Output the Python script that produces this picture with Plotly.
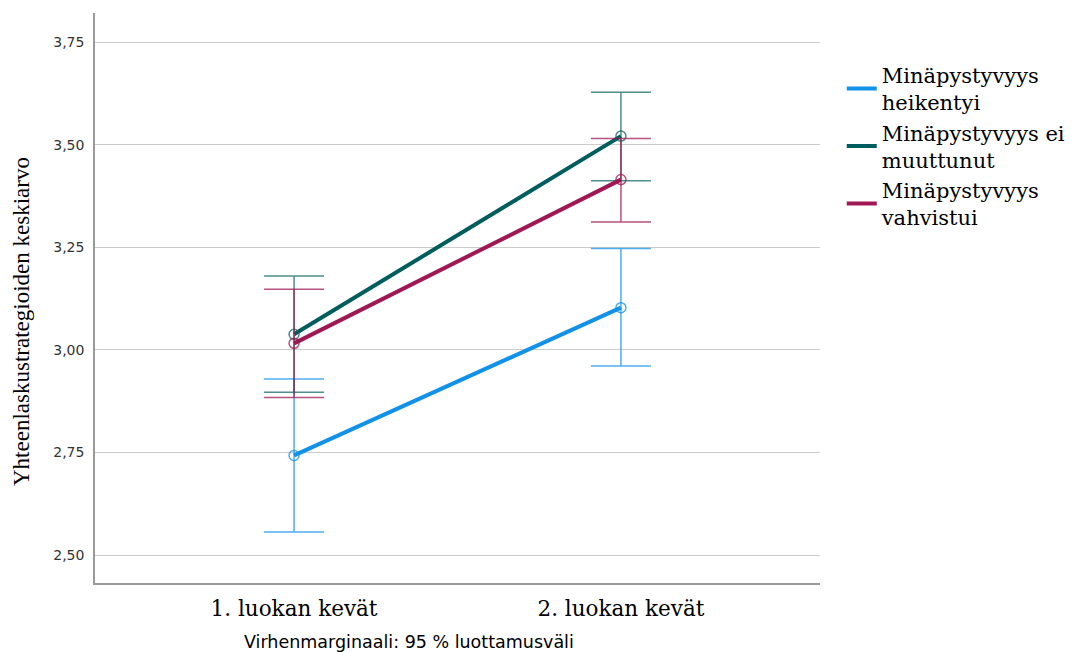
import plotly.graph_objects as go

categories = ["1. luokan kevät", "2. luokan kevät"]
series_names = ["Minäpystyvyys<br>heikentyi", "Minäpystyvyys ei<br>muuttunut", "Minäpystyvyys<br>vahvistui"]
means = [[2.743, 3.103], [3.038, 3.521], [3.016, 3.415]]
ci_low = [[2.556, 2.961], [2.897, 3.412], [2.884, 3.312]]
ci_high = [[2.929, 3.247], [3.180, 3.628], [3.148, 3.515]]
colors = ["#1192e8", "#005d5d", "#9f1853"]
err_colors = ["rgba(17,146,232,0.75)", "rgba(0,93,93,0.7)", "rgba(159,24,83,0.75)"]
y_ticks = [2.50, 2.75, 3.00, 3.25, 3.50, 3.75]
y_title = "Yhteenlaskustrategioiden keskiarvo"
footnote = "Virhenmarginaali: 95 % luottamusväli"

fig = go.Figure()
xpos = [1, 2]
for i, (name, m, lo, hi, c, ec) in enumerate(zip(series_names, means, ci_low, ci_high, colors, err_colors)):
    fig.add_trace(go.Scatter(
        x=xpos, y=m, name=name, mode="lines", legendgroup=str(i),
        line=dict(color=c, width=4),
    ))
    fig.add_trace(go.Scatter(
        x=xpos, y=m, name=name, mode="markers", legendgroup=str(i), showlegend=False,
        marker=dict(symbol="circle-open", size=10, color=ec, line=dict(width=1.5)),
        error_y=dict(type="data", symmetric=False,
                     array=[h - v for h, v in zip(hi, m)],
                     arrayminus=[v - l for v, l in zip(m, lo)],
                     color=ec, thickness=1.5, width=30),
    ))

fig.update_layout(
    width=1081, height=652,
    margin=dict(l=87, r=269, t=5, b=77),
    plot_bgcolor="white", paper_bgcolor="white",
    separators=", ",
    showlegend=True,
    legend=dict(x=1.030, xanchor="left", y=0.927, yanchor="top",
                font=dict(family="DejaVu Serif", size=21, color="black"),
                bgcolor="rgba(0,0,0,0)", tracegroupgap=0, itemwidth=30),
    xaxis=dict(range=[0.391, 2.609], tickvals=xpos, ticktext=categories,
               showgrid=False, zeroline=False, showline=True, linecolor="#9a9a9a", linewidth=1.5,
               ticks="", ticklabelstandoff=5,
               tickfont=dict(family="DejaVu Serif", size=21.5, color="black")),
    yaxis=dict(range=[2.432, 3.821], tickvals=y_ticks, tickformat=".2f",
               showgrid=True, gridcolor="#cccccc", gridwidth=1, zeroline=False,
               showline=True, linecolor="#9a9a9a", linewidth=1.5, ticks="", ticklabelstandoff=6,
               tickfont=dict(family="DejaVu Sans", size=14, color="#333333")),
    annotations=[
        dict(text=y_title, xref="paper", yref="paper", x=0, xshift=-74, y=(583 - 322) / 570,
             xanchor="center", yanchor="middle", textangle=-90, showarrow=False,
             font=dict(family="Liberation Serif", size=23, color="black")),
        dict(text=footnote, xref="paper", yref="paper",
             x=(409 - 95) / 725, y=0, yshift=-59, xanchor="center", yanchor="middle",
             showarrow=False, font=dict(family="DejaVu Sans", size=17.5, color="black")),
    ],
)

fig.write_html("out.html")
